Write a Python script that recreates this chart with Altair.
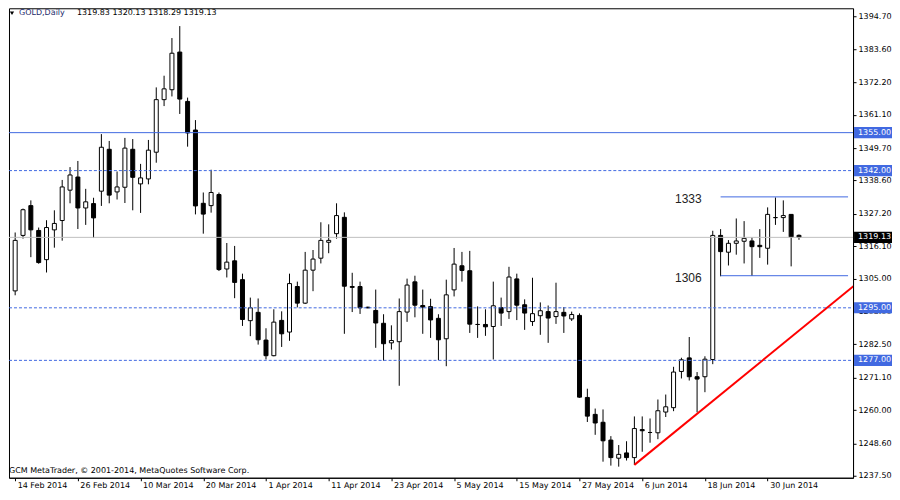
import json
import altair as alt
import pandas as pd

# ---------------- data ----------------
opens = [1300.8, 1319.8, 1330.0, 1321.5, 1311.5, 1321.7, 1324.9, 1335.3, 1339.8, 1329.2,
         1330.7, 1334.95, 1349.3, 1334.7, 1336.3, 1349.3, 1337.45, 1339.15, 1348.3, 1366.3,
         1369.7, 1382.6, 1365.7, 1355.9, 1330.8, 1330.0, 1333.8, 1308.3, 1311.1, 1304.65,
         1290.6, 1293.45, 1283.95, 1278.6, 1290.7, 1286.7, 1302.3, 1296.6, 1307.9, 1312.0,
         1317.45, 1320.4, 1326.0, 1302.3, 1302.3, 1295.2, 1294.1, 1289.7, 1283.0, 1283.4,
         1293.55, 1303.9, 1295.8, 1295.4, 1291.4, 1284.4, 1301.15, 1309.4, 1307.7, 1289.3,
         1289.3, 1288.6, 1295.05, 1293.7, 1304.9, 1296.05, 1290.3, 1292.3, 1293.7, 1292.0,
         1293.45, 1291.2, 1292.4, 1264.3, 1258.5, 1255.8, 1249.7, 1243.5, 1245.3, 1243.7,
         1253.3, 1252.3, 1252.2, 1259.3, 1260.8, 1273.2, 1277.85, 1271.4, 1271.4, 1277.3,
         1319.8, 1314.05, 1317.1, 1317.8, 1317.9, 1316.4, 1315.4, 1325.9, 1325.9, 1327.0,
         1319.83]
highs = [1320.8, 1329.0, 1331.8, 1322.5, 1325.0, 1328.4, 1338.8, 1343.2, 1345.3, 1335.75,
         1332.7, 1354.5, 1352.15, 1341.7, 1353.2, 1352.8, 1344.3, 1352.5, 1370.5, 1374.5,
         1387.4, 1391.5, 1367.0, 1359.3, 1334.5, 1342.3, 1334.5, 1317.2, 1316.2, 1306.7,
         1298.5, 1298.2, 1288.0, 1294.5, 1293.8, 1306.7, 1303.97, 1314.15, 1314.8, 1324.3,
         1323.6, 1330.8, 1327.7, 1307.0, 1303.97, 1295.4, 1301.25, 1292.8, 1289.0, 1298.2,
         1305.0, 1306.0, 1301.25, 1298.1, 1292.8, 1304.65, 1315.5, 1314.15, 1314.5, 1295.5,
         1294.5, 1303.97, 1298.5, 1309.05, 1306.7, 1297.9, 1305.3, 1296.85, 1295.8, 1303.6,
         1295.25, 1293.7, 1293.1, 1267.3, 1260.5, 1260.2, 1251.05, 1248.0, 1249.3, 1257.8,
         1257.8, 1257.1, 1263.6, 1265.3, 1274.8, 1277.9, 1285.0, 1273.0, 1278.4, 1321.4,
         1321.95, 1318.2, 1325.6, 1324.7, 1319.1, 1321.95, 1329.4, 1332.8, 1331.8, 1327.0,
         1320.13]
lows = [1299.3, 1318.7, 1312.35, 1310.1, 1307.1, 1315.6, 1318.0, 1330.8, 1322.0, 1323.4,
        1318.9, 1329.9, 1330.8, 1332.1, 1330.9, 1328.4, 1327.5, 1337.3, 1344.7, 1364.1,
        1367.4, 1361.4, 1350.2, 1327.0, 1320.4, 1327.6, 1307.6, 1305.4, 1298.3, 1288.8,
        1285.3, 1282.4, 1277.3, 1278.4, 1281.6, 1283.7, 1295.15, 1296.3, 1300.7, 1310.2,
        1313.7, 1318.7, 1286.1, 1293.55, 1292.9, 1294.8, 1281.3, 1276.9, 1280.7, 1268.3,
        1290.2, 1291.75, 1286.1, 1284.7, 1277.05, 1275.0, 1298.9, 1303.97, 1286.4, 1284.7,
        1285.4, 1277.3, 1288.8, 1291.2, 1290.8, 1287.45, 1288.8, 1285.75, 1283.0, 1289.5,
        1286.4, 1290.5, 1264.2, 1255.9, 1251.5, 1242.3, 1240.95, 1240.6, 1242.7, 1241.2,
        1245.7, 1248.8, 1250.0, 1257.6, 1259.6, 1270.8, 1270.1, 1259.2, 1266.1, 1275.7,
        1305.8, 1309.5, 1313.2, 1310.2, 1305.9, 1312.1, 1309.8, 1323.4, 1321.0, 1309.2,
        1318.29]
closes = [1318.1, 1328.6, 1321.7, 1310.5, 1322.5, 1323.9, 1336.4, 1340.5, 1329.2, 1331.3,
          1325.8, 1350.0, 1333.6, 1336.4, 1349.7, 1339.7, 1339.5, 1349.0, 1366.3, 1370.0,
          1382.2, 1366.5, 1354.9, 1329.9, 1327.1, 1334.5, 1308.1, 1310.65, 1303.7, 1291.0,
          1295.0, 1284.05, 1278.6, 1290.1, 1286.1, 1303.3, 1296.6, 1307.9, 1311.7, 1318.1,
          1318.1, 1326.6, 1302.4, 1302.0, 1295.0, 1295.0, 1289.8, 1282.7, 1283.8, 1293.7,
          1302.8, 1295.9, 1295.25, 1290.85, 1284.05, 1299.45, 1309.97, 1307.8, 1289.4, 1289.3,
          1288.5, 1295.7, 1293.2, 1305.55, 1295.9, 1293.2, 1293.0, 1294.0, 1291.5, 1293.7,
          1292.2, 1292.7, 1264.4, 1257.9, 1255.55, 1249.45, 1243.7, 1244.8, 1243.7, 1253.65,
          1252.9, 1252.3, 1259.75, 1261.1, 1273.0, 1277.2, 1271.4, 1270.6, 1277.4, 1319.8,
          1314.25, 1317.1, 1317.9, 1318.8, 1315.95, 1315.95, 1327.0, 1325.9, 1326.6, 1319.3,
          1319.13]

date_labels = ["14 Feb 2014", "26 Feb 2014", "10 Mar 2014", "20 Mar 2014", "1 Apr 2014",
               "11 Apr 2014", "23 Apr 2014", "5 May 2014", "15 May 2014", "27 May 2014",
               "6 Jun 2014", "18 Jun 2014", "30 Jun 2014"]
label_step = 8

y_ticks = [1237.5, 1248.6, 1260.0, 1271.1, 1282.5, 1293.9, 1305.0, 1316.1, 1327.2,
           1338.6, 1349.7, 1361.1, 1372.2, 1383.6, 1394.7]

level_prices = [1355.0, 1342.0, 1295.0, 1277.0]
level_dashed = [False, True, True, True]
bid_price = 1319.13

seg_prices = [1333.0, 1306.0]
seg_texts = ["1333", "1306"]
seg_start = 90

trend_i = [79, 108]
trend_p = [1241.2, 1304.7]

header_name = "GOLD,Daily"
header_vals = "1319.83 1320.13 1318.29 1319.13"
copyright_text = "GCM MetaTrader, \u00a9 2001-2014, MetaQuotes Software Corp."

# ---------------- layout / style ----------------
W, H = 845, 470
X_DOM = [-0.15, 106.26]
Y_DOM = [1236.8, 1397.6]
BLUE = "#4169E1"
FONT = "DejaVu Sans"
FS = 8

df = pd.DataFrame({"i": list(range(len(opens))), "open": opens, "high": highs,
                   "low": lows, "close": closes})
df["up"] = df["close"] >= df["open"]

xs = alt.Scale(domain=X_DOM, nice=False, zero=False)
ys = alt.Scale(domain=Y_DOM, nice=False, zero=False)

label_expr = json.dumps(date_labels) + f"[round(datum.value/{label_step})]"
x_axis = alt.Axis(values=list(range(0, len(opens), label_step)), labelExpr=label_expr,
                  orient="bottom", title=None, grid=False, tickSize=3, labelPadding=1,
                  labelAlign="left", labelOffset=2, labelFont=FONT, labelFontSize=FS,
                  labelColor="black", domainColor="black", tickColor="black",
                  labelFlush=False, labelOverlap=False)
y_axis = alt.Axis(values=y_ticks, format=".2f", orient="right", title=None, grid=False,
                  tickSize=3, labelPadding=2, labelFont=FONT, labelFontSize=FS,
                  labelColor="black", domainColor="black", tickColor="black",
                  labelOverlap=False, labelFlush=False)


def X(field):
    return alt.X(field, scale=xs, axis=x_axis, title=None)


def Y(field):
    return alt.Y(field, scale=ys, axis=y_axis, title=None)


base = alt.Chart(df)

wicks = base.mark_rule(color="black", strokeWidth=1).encode(
    x=X("i:Q"), y=Y("low:Q"), y2="high:Q")

bodies = base.mark_bar(size=4, stroke="black", strokeWidth=1).encode(
    x=X("i:Q"), y=Y("open:Q"), y2="close:Q",
    fill=alt.condition("datum.up", alt.value("white"), alt.value("black")),
)

lev_df = pd.DataFrame({"p": level_prices, "dashed": level_dashed})
solid_lines = alt.Chart(lev_df).transform_filter("!datum.dashed").mark_rule(
    color=BLUE, strokeWidth=1).encode(y=Y("p:Q"), x=alt.value(0), x2=alt.value(W))
dashed_lines = alt.Chart(lev_df).transform_filter("datum.dashed").mark_rule(
    color=BLUE, strokeWidth=1, strokeDash=[3, 2]).encode(
    y=Y("p:Q"), x=alt.value(0), x2=alt.value(W))

bid_line = alt.Chart(pd.DataFrame({"p": [bid_price]})).mark_rule(
    color="#C0C0C0", strokeWidth=1).encode(y=Y("p:Q"), x=alt.value(0), x2=alt.value(W))

seg_df = pd.DataFrame({"p": seg_prices, "t": seg_texts, "s": [seg_start] * len(seg_prices),
                       "e": [X_DOM[1]] * len(seg_prices)})
seg_lines = alt.Chart(seg_df).mark_rule(color=BLUE, strokeWidth=1).encode(
    x=X("s:Q"), x2="e:Q", y=Y("p:Q"))
seg_text = alt.Chart(seg_df).mark_text(align="right", baseline="middle", dx=-19, dy=2,
                                       font="Liberation Sans", fontSize=12,
                                       color="#222222").encode(
    x=X("s:Q"), y=Y("p:Q"), text="t:N")

trend = alt.Chart(pd.DataFrame({"i": trend_i, "p": trend_p})).mark_line(
    color="#FF0000", strokeWidth=2, clip=True).encode(x=X("i:Q"), y=Y("p:Q"))

box_df = pd.DataFrame({"p": level_prices + [bid_price],
                       "c": ["blue"] * len(level_prices) + ["black"]})
boxes = alt.Chart(box_df).transform_calculate(
    lo="datum.p - 1.9", hi="datum.p + 1.9").mark_rect().encode(
    y=Y("lo:Q"), y2="hi:Q",
    x=alt.value(W + 1), x2=alt.value(W + 39),
    fill=alt.Color("c:N", scale=alt.Scale(domain=["blue", "black"], range=[BLUE, "black"]),
                   legend=None))
box_text = alt.Chart(box_df).transform_calculate(
    lab="format(datum.p, '.2f')").mark_text(
    align="left", baseline="middle", font=FONT, fontSize=FS, color="white").encode(
    y=Y("p:Q"), x=alt.value(W + 5), text="lab:N")

hdr = pd.DataFrame({"a": [header_name], "b": [header_vals], "c": [copyright_text]})
tri = alt.Chart(hdr).mark_point(shape="triangle-down", filled=True, size=18,
                                color="black", opacity=1).encode(
    x=alt.value(3), y=alt.value(5))
hdr_name = alt.Chart(hdr).mark_text(align="left", baseline="middle", font=FONT,
                                    fontSize=FS, color="#1c2a6b").encode(
    x=alt.value(10), y=alt.value(5), text="a:N")
hdr_vals = alt.Chart(hdr).mark_text(align="left", baseline="middle", font=FONT,
                                    fontSize=FS, color="black").encode(
    x=alt.value(68), y=alt.value(5), text="b:N")
copy_t = alt.Chart(hdr).mark_text(align="left", baseline="middle", font=FONT,
                                  fontSize=FS, color="black").encode(
    x=alt.value(0), y=alt.value(H - 7), text="c:N")

chart = alt.layer(
    wicks, bodies, bid_line, solid_lines, dashed_lines, seg_lines, seg_text, trend,
    boxes, box_text, tri, hdr_name, hdr_vals, copy_t
).properties(width=W, height=H, padding=0, background="white").configure_view(
    stroke="black", strokeWidth=1)

chart.save("out.html", embed_options={"renderer": "svg", "actions": False})
